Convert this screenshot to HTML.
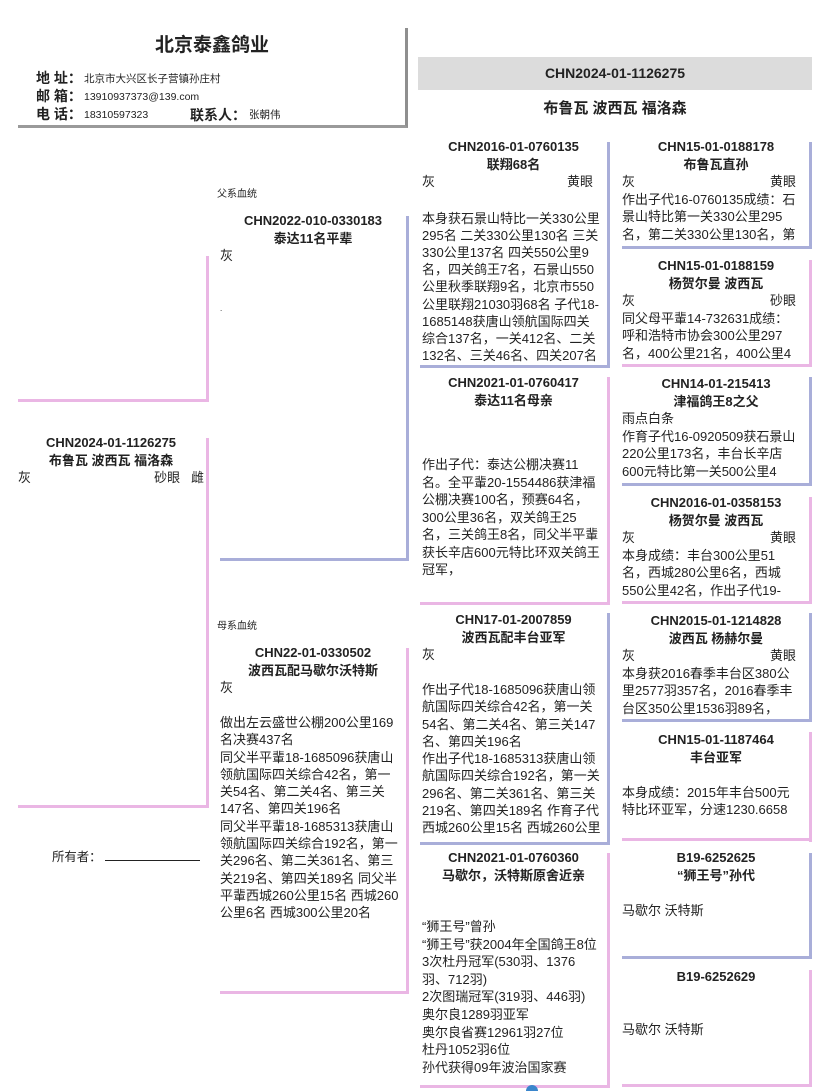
<!DOCTYPE html>
<html><head><meta charset="utf-8">
<style>
*{margin:0;padding:0;box-sizing:border-box}
body{width:828px;height:1090px;background:#fff;position:relative;overflow:hidden;font-family:"Liberation Sans","Noto Sans CJK SC",sans-serif;color:#222}
.a{position:absolute}
.bx{position:absolute;overflow:hidden;font-size:13px;line-height:17.5px;white-space:nowrap}
.t{font-weight:bold;font-size:13px;text-align:center;line-height:17.5px}
.rb{position:absolute;width:3px}
.hb{position:absolute;height:3px}
.blue{background:#a9aed9}
.pink{background:#eab6e4}
.sp{display:flex;justify-content:space-between}
</style></head><body>

<!-- header -->
<div class="a" style="left:18px;top:28px;width:390px;height:100px;border-right:3px solid #8f8f8f;border-bottom:3px solid #9a9a9a"></div>
<div class="a" style="left:18px;top:30px;width:388px;text-align:center;font-weight:bold;font-size:19px">北京泰鑫鸽业</div>
<div class="a" style="left:36px;top:69px;font-size:14px;font-weight:bold;line-height:18px">地 址：<br>邮 箱：<br>电 话：</div>
<div class="a" style="left:84px;top:70px;font-size:10.5px;line-height:18px">北京市大兴区长子营镇孙庄村<br>13910937373@139.com<br>18310597323</div>
<div class="a" style="left:190px;top:105px;font-size:14px;font-weight:bold">联系人：</div>
<div class="a" style="left:249px;top:107px;font-size:10.5px">张朝伟</div>

<div class="a" style="left:418px;top:57px;width:394px;height:33px;background:#dcdcdc;text-align:center;font-weight:bold;font-size:14px;line-height:33px">CHN2024-01-1126275</div>
<div class="a" style="left:418px;top:97px;width:394px;text-align:center;font-weight:bold;font-size:15px">布鲁瓦 波西瓦 福洛森</div>

<!-- subject -->
<div class="hb pink" style="left:18px;top:399px;width:191px"></div>
<div class="rb pink" style="left:206px;top:256px;height:146px"></div>
<div class="bx" style="left:18px;top:434px;width:186px">
<div class="t">CHN2024-01-1126275</div><div class="t">布鲁瓦 波西瓦 福洛森</div>
<div class="sp"><span>灰</span><span>砂眼&nbsp;&nbsp;&nbsp;雌</span></div></div>
<div class="rb pink" style="left:206px;top:438px;height:370px"></div>
<div class="hb pink" style="left:18px;top:805px;width:191px"></div>
<div class="a" style="left:52px;top:847px;font-size:12.4px">所有者：</div>
<div class="hb" style="left:105px;top:860px;width:95px;height:1px;background:#222"></div>

<!-- sire -->
<div class="a" style="left:217px;top:185px;font-size:10px">父系血统</div>
<div class="bx" style="left:220px;top:212px;width:186px;height:345px">
<div class="t">CHN2022-010-0330183</div><div class="t">泰达11名平辈</div>
<div>灰</div><div style="height:35px"></div><div style="font-size:8px">.</div></div>
<div class="rb blue" style="left:406px;top:216px;height:345px"></div>
<div class="hb blue" style="left:220px;top:558px;width:189px"></div>

<!-- dam -->
<div class="a" style="left:217px;top:617px;font-size:10px">母系血统</div>
<div class="bx" style="left:220px;top:644px;width:186px;height:345px">
<div class="t">CHN22-01-0330502</div><div class="t">波西瓦配马歇尔沃特斯</div>
<div>灰</div><div style="height:17.5px"></div>
<div style="line-height:17.3px">做出左云盛世公棚200公里169<br>名决赛437名<br>同父半平輩18-1685096获唐山<br>领航国际四关综合42名，第一<br>关54名、第二关4名、第三关<br>147名、第四关196名<br>同父半平輩18-1685313获唐山<br>领航国际四关综合192名，第一<br>关296名、第二关361名、第三<br>关219名、第四关189名 同父半<br>平輩西城260公里15名 西城260<br>公里6名 西城300公里20名</div></div>
<div class="rb pink" style="left:406px;top:648px;height:346px"></div>
<div class="hb pink" style="left:220px;top:991px;width:189px"></div>

<!-- col3 -->
<div class="bx" style="left:420px;top:138px;width:187px;height:226px">
<div class="t">CHN2016-01-0760135</div><div class="t">联翔68名</div>
<div class="sp" style="padding:0 14px 0 2px"><span>灰</span><span>黄眼</span></div><div style="height:19px"></div>
<div style="line-height:17.2px;padding-left:2px">本身获石景山特比一关330公里<br>295名 二关330公里130名 三关<br>330公里137名 四关550公里9<br>名，四关鸽王7名，石景山550<br>公里秋季联翔9名，北京市550<br>公里联翔21030羽68名 子代18-<br>1685148获唐山领航国际四关<br>综合137名，一关412名、二关<br>132名、三关46名、四关207名</div></div>
<div class="rb blue" style="left:607px;top:142px;height:226px"></div>
<div class="hb blue" style="left:420px;top:365px;width:190px"></div>

<div class="bx" style="left:420px;top:374px;width:187px;height:228px">
<div class="t">CHN2021-01-0760417</div><div class="t">泰达11名母亲</div>
<div style="height:47px"></div>
<div style="padding-left:2px">作出子代：泰达公棚决赛11<br>名。全平輩20-1554486获津福<br>公棚决赛100名，预赛64名，<br>300公里36名，双关鸽王25<br>名，三关鸽王8名，同父半平輩<br>获长辛店600元特比环双关鸽王<br>冠军，</div></div>
<div class="rb pink" style="left:607px;top:377px;height:228px"></div>
<div class="hb pink" style="left:420px;top:602px;width:190px"></div>

<div class="bx" style="left:420px;top:611px;width:187px;height:229px">
<div class="t">CHN17-01-2007859</div><div class="t">波西瓦配丰台亚军</div>
<div style="padding-left:2px">灰</div><div style="height:17.5px"></div>
<div style="padding-left:2px;line-height:17.3px">作出子代18-1685096获唐山领<br>航国际四关综合42名，第一关<br>54名、第二关4名、第三关147<br>名、第四关196名<br>作出子代18-1685313获唐山领<br>航国际四关综合192名，第一关<br>296名、第二关361名、第三关<br>219名、第四关189名 作育子代<br>西城260公里15名 西城260公里</div></div>
<div class="rb blue" style="left:607px;top:613px;height:232px"></div>
<div class="hb blue" style="left:420px;top:842px;width:190px"></div>

<div class="bx" style="left:420px;top:849px;width:187px;height:236px">
<div class="t">CHN2021-01-0760360</div><div class="t">马歇尔，沃特斯原舍近亲</div>
<div style="height:34px"></div>
<div style="padding-left:2px;line-height:17.6px">“狮王号”曾孙<br>“狮王号”获2004年全国鸽王8位<br>3次杜丹冠军(530羽、1376<br>羽、712羽)<br>2次图瑞冠军(319羽、446羽)<br>奥尔良1289羽亚军<br>奥尔良省赛12961羽27位<br>杜丹1052羽6位<br>孙代获得09年波治国家赛</div></div>
<div class="rb pink" style="left:607px;top:853px;height:235px"></div>
<div class="hb pink" style="left:420px;top:1085px;width:190px"></div>

<!-- col4 -->
<div class="bx" style="left:622px;top:138px;width:188px;height:107px">
<div class="t">CHN15-01-0188178</div><div class="t">布鲁瓦直孙</div>
<div class="sp" style="padding-right:14px"><span>灰</span><span>黄眼</span></div>
<div>作出子代16-0760135成绩：石<br>景山特比第一关330公里295<br>名，第二关330公里130名，第</div></div>
<div class="rb blue" style="left:809px;top:142px;height:107px"></div>
<div class="hb blue" style="left:622px;top:246px;width:190px"></div>

<div class="bx" style="left:622px;top:257px;width:188px;height:107px">
<div class="t">CHN15-01-0188159</div><div class="t">杨贺尔曼 波西瓦</div>
<div class="sp" style="padding-right:14px"><span>灰</span><span>砂眼</span></div>
<div>同父母平輩14-732631成绩：<br>呼和浩特市协会300公里297<br>名，400公里21名，400公里4</div></div>
<div class="rb pink" style="left:809px;top:260px;height:107px"></div>
<div class="hb pink" style="left:622px;top:364px;width:190px"></div>

<div class="bx" style="left:622px;top:375px;width:188px;height:108px">
<div class="t">CHN14-01-215413</div><div class="t">津福鸽王8之父</div>
<div>雨点白条</div>
<div>作育子代16-0920509获石景山<br>220公里173名，丰台长辛店<br>600元特比第一关500公里4</div></div>
<div class="rb blue" style="left:809px;top:377px;height:109px"></div>
<div class="hb blue" style="left:622px;top:483px;width:190px"></div>

<div class="bx" style="left:622px;top:494px;width:188px;height:107px">
<div class="t">CHN2016-01-0358153</div><div class="t">杨贺尔曼 波西瓦</div>
<div class="sp" style="padding-right:14px"><span>灰</span><span>黄眼</span></div>
<div>本身成绩：丰台300公里51<br>名，西城280公里6名，西城<br>550公里42名，作出子代19-</div></div>
<div class="rb pink" style="left:809px;top:497px;height:107px"></div>
<div class="hb pink" style="left:622px;top:601px;width:190px"></div>

<div class="bx" style="left:622px;top:612px;width:188px;height:107px">
<div class="t">CHN2015-01-1214828</div><div class="t">波西瓦 杨赫尔曼</div>
<div class="sp" style="padding-right:14px"><span>灰</span><span>黄眼</span></div>
<div>本身获2016春季丰台区380公<br>里2577羽357名，2016春季丰<br>台区350公里1536羽89名，</div></div>
<div class="rb blue" style="left:809px;top:613px;height:109px"></div>
<div class="hb blue" style="left:622px;top:719px;width:190px"></div>

<div class="bx" style="left:622px;top:731px;width:188px;height:107px">
<div class="t">CHN15-01-1187464</div><div class="t">丰台亚军</div>
<div style="height:17.5px"></div>
<div>本身成绩：2015年丰台500元<br>特比环亚军，分速1230.6658</div></div>
<div class="rb pink" style="left:809px;top:732px;height:110px"></div>
<div class="hb pink" style="left:622px;top:838px;width:190px"></div>

<div class="bx" style="left:622px;top:849px;width:188px;height:107px">
<div class="t">B19-6252625</div><div class="t">“狮王号”孙代</div>
<div style="height:17.5px"></div>
<div>马歇尔 沃特斯</div></div>
<div class="rb blue" style="left:809px;top:853px;height:106px"></div>
<div class="hb blue" style="left:622px;top:956px;width:190px"></div>

<div class="bx" style="left:622px;top:968px;width:188px;height:115px">
<div class="t">B19-6252629</div>
<div style="height:35px"></div>
<div>马歇尔 沃特斯</div></div>
<div class="rb pink" style="left:809px;top:970px;height:117px"></div>
<div class="hb pink" style="left:622px;top:1084px;width:190px"></div>

<div class="a" style="left:526px;top:1085px;width:12px;height:6px;background:#3a86cc;border-radius:6px 6px 0 0"></div>
</body></html>
